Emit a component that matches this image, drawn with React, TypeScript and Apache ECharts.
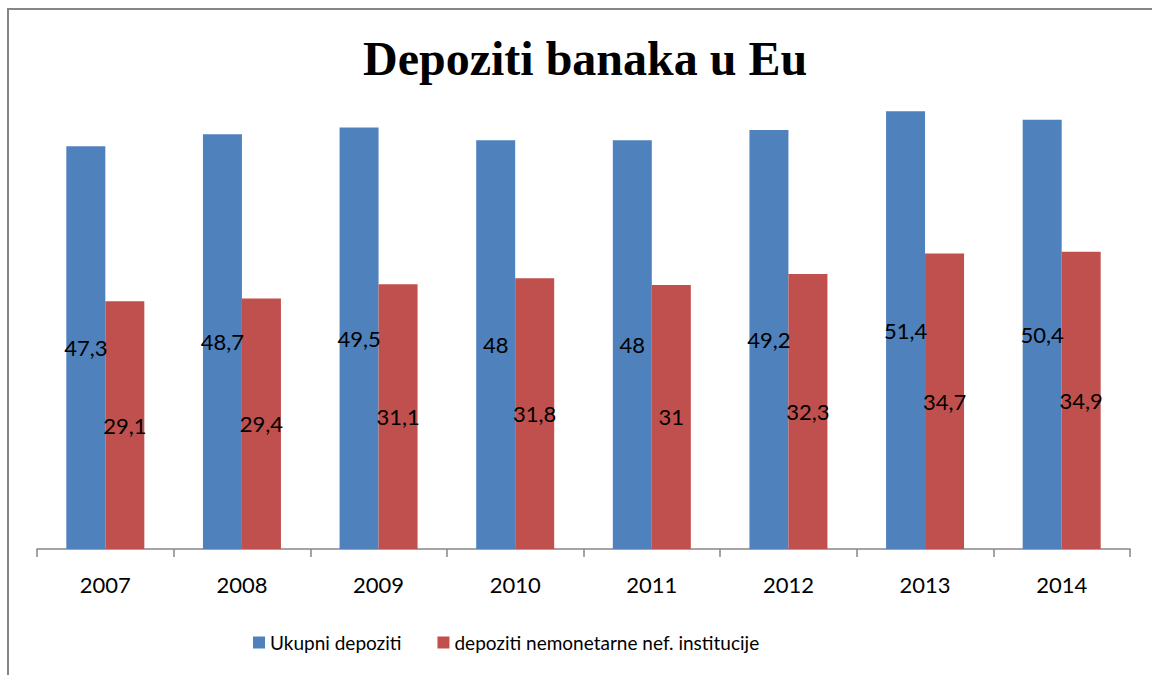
import React, { useEffect, useRef } from "react";
import * as echarts from "echarts";

const years = ["2007", "2008", "2009", "2010", "2011", "2012", "2013", "2014"];
const ukupni = [47.3, 48.7, 49.5, 48, 48, 49.2, 51.4, 50.4];
const nemonetarne = [29.1, 29.4, 31.1, 31.8, 31, 32.3, 34.7, 34.9];
const seriesNames = ["Ukupni depoziti", "depoziti nemonetarne nef. institucije"];

const FONT = "Lato, 'Open Sans', sans-serif";

export default function App() {
  const ref = useRef<HTMLDivElement>(null);
  useEffect(() => {
    if (!ref.current) return;
    const chart = echarts.init(ref.current, null, { renderer: "svg" });
    const fmt = (p: any) => String(p.value).replace(".", ",");
    chart.setOption({
      animation: false,
      backgroundColor: "#ffffff",
      title: {
        text: "Depoziti banaka u Eu",
        left: 358,
        top: 29,
        textStyle: {
          fontFamily: "'Liberation Serif', 'Times New Roman', serif",
          fontWeight: "bold",
          fontSize: 48,
          color: "#000",
        },
      },
      graphic: [
        {
          type: "rect",
          shape: { x: 8, y: 9, width: 1200, height: 800 },
          style: { fill: "none", stroke: "#868686", lineWidth: 2 },
          silent: true,
        },
      ],
      legend: {
        data: seriesNames,
        top: 628,
        left: 248,
        itemWidth: 12,
        itemHeight: 12,
        itemGap: 36,
        icon: "rect",
        textStyle: { fontFamily: FONT, fontSize: 19, color: "#000" },
      },
      grid: { left: 37, right: 22, top: 38, bottom: 126, containLabel: false },
      xAxis: {
        type: "category",
        data: years,
        boundaryGap: true,
        axisLine: { lineStyle: { color: "#868686", width: 1.5 } },
        axisTick: { show: true, length: 8, lineStyle: { color: "#868686", width: 1.5 } },
        axisLabel: { fontFamily: FONT, fontSize: 22, color: "#000", margin: 24 },
      },
      yAxis: {
        type: "value",
        min: 0,
        max: 60,
        show: false,
        splitLine: { show: false },
      },
      series: [
        {
          name: seriesNames[0],
          type: "bar",
          data: ukupni,
          barWidth: 39,
          barGap: "0%",
          itemStyle: { color: "#4F81BD" },
          label: {
            show: true,
            position: "inside",
            formatter: fmt,
            fontFamily: FONT,
            fontSize: 22,
            color: "#000",
          },
        },
        {
          name: seriesNames[1],
          type: "bar",
          data: nemonetarne,
          barWidth: 39,
          barGap: "0%",
          itemStyle: { color: "#C0504D" },
          label: {
            show: true,
            position: "inside",
            formatter: fmt,
            fontFamily: FONT,
            fontSize: 22,
            color: "#000",
          },
        },
      ],
    });
    return () => chart.dispose();
  }, []);
  return <div ref={ref} style={{ width: 1152, height: 675, position: "absolute", left: 0, top: 0 }} />;
}
